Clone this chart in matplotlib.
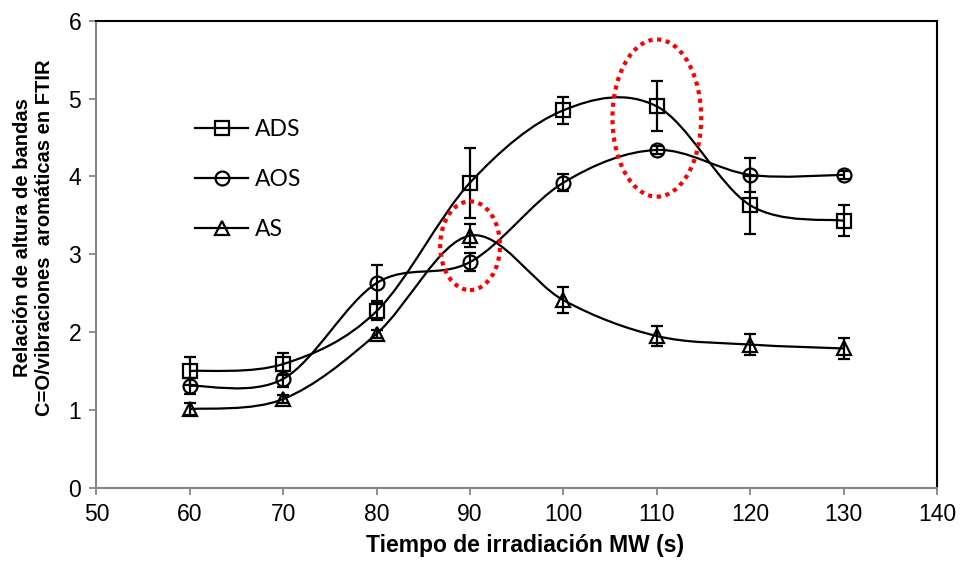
import numpy as np
import matplotlib
matplotlib.use("Agg")
import matplotlib.pyplot as plt
from matplotlib.path import Path
from matplotlib.patches import PathPatch, Ellipse
from matplotlib.lines import Line2D

# tiempo de irradiacion (s)
t = [60, 70, 80, 90, 100, 110, 120, 130]
ads = [1.50, 1.59, 2.27, 3.92, 4.85, 4.90, 3.63, 3.43]
ads_err = [0.18, 0.14, 0.12, 0.45, 0.17, 0.32, 0.37, 0.20]
aos = [1.31, 1.40, 2.63, 2.90, 3.92, 4.34, 4.02, 4.02]
aos_err = [0.10, 0.10, 0.23, 0.12, 0.11, 0.05, 0.22, 0.05]
as_ = [1.01, 1.14, 1.98, 3.24, 2.41, 1.95, 1.84, 1.79]
as_err = [0.08, 0.05, 0.05, 0.15, 0.17, 0.13, 0.14, 0.13]
# marked regions (centre x, centre y, width, height)
marks = [(90, 3.11, 6.4, 1.14), (110, 4.75, 9.5, 2.02)]

GRAY = "#868686"
plt.rcParams["font.family"] = ["Liberation Sans", "DejaVu Sans"]


def smooth_path(x, y):
    # excel-like smoothed line: bezier segments with catmull-rom handles
    p = np.column_stack([x, y]).astype(float)
    n = len(p)
    verts = [p[0]]
    codes = [Path.MOVETO]
    for i in range(n - 1):
        a = p[max(i - 1, 0)]
        d = p[min(i + 2, n - 1)]
        c1 = p[i] + (p[i + 1] - a) / 6
        c2 = p[i + 1] - (d - p[i]) / 6
        verts += [c1, c2, p[i + 1]]
        codes += [Path.CURVE4] * 3
    return Path(verts, codes)


fig = plt.figure(figsize=(9.6, 5.61), dpi=100)
ax = fig.add_axes([0.1005, 0.1305, 0.8755, 0.8325])

series = [(ads, ads_err, "s", "ADS"), (aos, aos_err, "o", "AOS"), (as_, as_err, "^", "AS")]
handles = []
for y, e, m, lab in series:
    ax.add_patch(PathPatch(smooth_path(t, y), fill=False, lw=1.6, color="black", zorder=2))
    ax.errorbar(t, y, yerr=e, fmt="none", ecolor="black", elinewidth=1.6,
                capsize=4.5, capthick=1.6, zorder=3)
    ms = 10.5 if m == "s" else 10
    ax.plot(t, y, ls="none", marker=m, ms=ms, mfc="none", mec="black", mew=1.6, zorder=4)
    handles.append(Line2D([], [], color="black", lw=1.6, marker=m, ms=ms,
                          mfc="none", mec="black", mew=1.6, label=lab))

for cx, cy, w, h in marks:
    ax.add_patch(Ellipse((cx, cy), w, h, fill=False, edgecolor="red", lw=3,
                         ls=(0, (1, 1.1)), zorder=5))

ax.set_xlim(50, 140)
ax.set_ylim(0, 6)
ax.set_xticks(range(50, 141, 10))
ax.set_yticks(range(0, 7))
for s in ("left", "bottom"):
    ax.spines[s].set_color(GRAY)
    ax.spines[s].set_linewidth(1.5)
for s in ("top", "right"):
    ax.spines[s].set_color("black")
    ax.spines[s].set_linewidth(1.5)
ax.tick_params(direction="out", length=5, width=1.3, color=GRAY, labelsize=16.5, pad=6)

ax.set_xlabel("Tiempo de irradiación MW (s)", fontsize=16.5, weight="bold")
ax.xaxis.set_label_coords(0.51, -0.1)
ax.set_ylabel("Relación de altura de bandas\nC=O/vibraciones  aromáticas en FTIR",
              fontsize=14.5, weight="bold", linespacing=1.2)
ax.yaxis.set_label_coords(-0.051, 0.535)

leg = ax.legend(handles=handles, loc="upper left", bbox_to_anchor=(0.093, 0.833),
                frameon=False, handlelength=2.3, labelspacing=1.25, handletextpad=0.3,
                prop={"family": "Lato", "size": 16.5})

fig.savefig("out.png", dpi=100, facecolor="white")
